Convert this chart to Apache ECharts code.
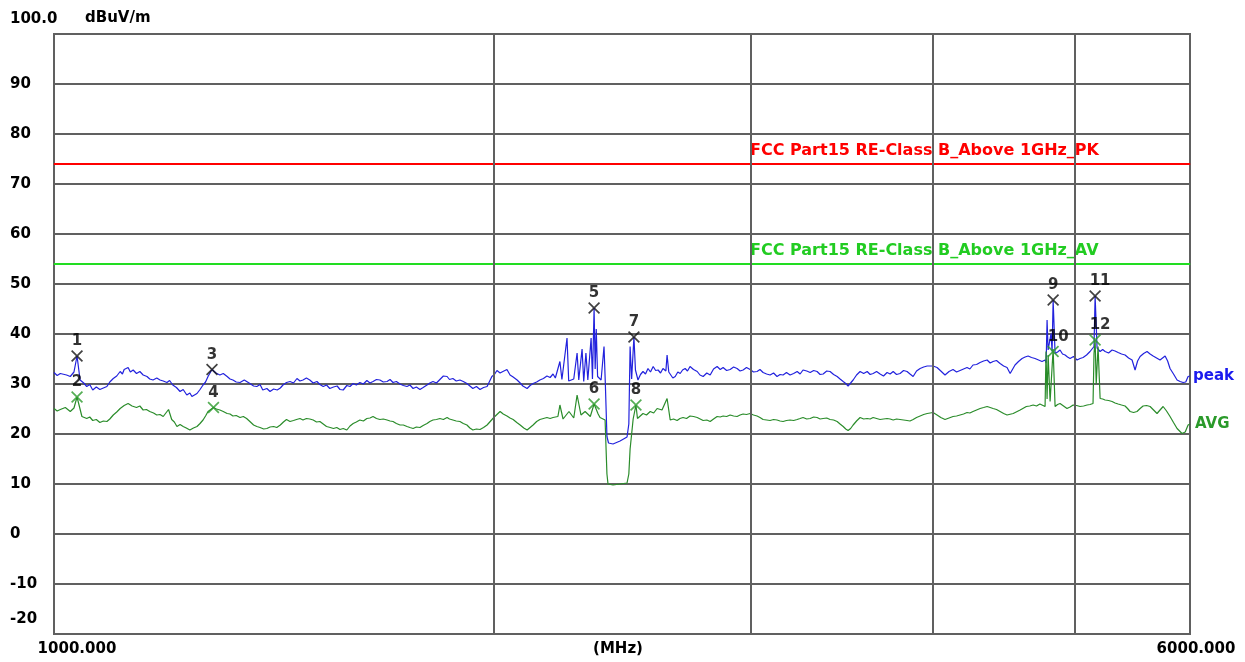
<!DOCTYPE html>
<html>
<head>
<meta charset="utf-8">
<script src="https://cdn.jsdelivr.net/npm/echarts@6.0.0/dist/echarts.min.js"></script>
<style>
html, body { margin: 0; padding: 0; background: #fff; }
#chart { width: 1245px; height: 662px; }
</style>
</head>
<body>
<div id="chart"></div>
<script>
// frequency (MHz) / level (dBuV/m)
var peakTrace = [
    [1000,32.3],[1005,31.7],[1010,32.1],[1020,31.8],[1026,31.5],[1032,32.4],[1037,35.6],[1042,30.8],[1048,30.2],[1053,29.5],[1058,29.9],[1063,28.8],
    [1069,29.4],[1075,28.9],[1081,29.2],[1087,29.5],[1092,30.4],[1098,31.1],[1104,31.6],[1110,32.5],[1114,32.0],[1117,32.9],[1124,33.3],[1128,32.4],[1133,32.8],[1139,32.1],[1145,32.5],[1151,31.8],[1158,31.5],[1163,31.0],[1169,30.8],
    [1176,31.2],[1182,30.8],[1188,30.6],[1195,30.3],[1200,30.7],[1206,29.8],[1213,29.3],[1220,28.5],[1226,28.9],[1233,27.8],[1239,28.2],[1243,27.5],[1253,28.1],[1259,28.9],[1265,29.8],[1270,30.4],[1275,31.5],[1283,32.9],
    [1291,32.2],[1299,31.8],[1306,32.1],[1314,31.5],[1320,31.0],[1326,30.8],[1333,30.4],[1341,30.3],[1350,30.8],[1362,30.1],[1370,29.6],[1377,29.5],[1384,29.9],[1390,28.8],[1399,29.1],[1406,28.5],[1414,29.0],[1422,28.8],
    [1429,29.2],[1435,29.8],[1443,30.3],[1451,30.5],[1459,30.2],[1467,31.1],[1474,30.6],[1481,30.8],[1489,31.2],[1497,30.8],[1505,30.2],[1514,30.5],[1521,29.9],[1529,29.5],[1537,29.8],[1545,29.1],[1554,29.4],[1563,29.6],[1570,28.9],[1578,28.8],
    [1587,29.7],[1595,29.5],[1603,30.1],[1611,29.8],[1620,30.3],[1629,30.0],[1638,30.7],[1646,30.2],[1654,30.5],[1663,30.9],[1672,30.8],[1681,30.4],[1691,30.5],[1699,30.9],[1707,30.3],[1716,30.5],[1726,30.0],[1735,29.7],[1745,29.5],
    [1753,29.8],[1762,29.1],[1771,29.4],[1781,28.9],[1790,29.3],[1801,29.8],[1809,30.2],[1818,30.5],[1828,30.2],[1838,30.9],[1848,31.6],[1859,31.5],[1866,30.9],[1876,31.1],[1886,30.6],[1897,30.8],[1907,30.5],[1918,30.1],[1927,29.6],[1936,29.1],
    [1947,29.5],[1958,28.9],[1969,29.3],[1980,29.5],[1995,31.5],[2003,31.9],[2011,32.7],[2021,32.2],[2030,32.5],[2043,32.9],[2053,31.8],[2063,31.4],[2076,30.8],[2086,30.2],[2095,29.6],[2109,29.1],[2119,29.7],[2129,30.1],
    [2141,30.4],[2152,30.8],[2164,31.1],[2176,31.6],[2187,31.3],[2197,32.0],[2205,31.2],[2221,34.5],[2228,30.9],[2246,39.2],[2252,30.6],[2270,31.0],[2282,36.2],
    [2288,30.8],[2300,37.0],[2306,30.5],[2314,36.2],[2321,30.8],[2333,39.2],[2338,31.0],[2344,45.2],[2348,33.0],[2352,41.0],
    [2357,31.5],[2370,30.8],[2381,37.5],[2386,30.0],[2392,19.5],[2398,18.2],[2415,18.0],[2442,18.6],[2469,19.4],[2476,22.0],
    [2481,37.5],[2487,31.0],[2496,39.4],[2502,32.8],[2512,30.8],[2522,31.9],[2532,32.5],[2542,32.0],[2552,33.1],[2562,32.4],[2573,33.5],[2583,32.7],[2593,32.8],[2603,32.2],[2613,33.1],
    [2625,32.6],[2630,35.8],[2637,32.4],[2643,32.1],[2654,31.2],[2664,31.5],[2675,32.4],[2685,32.1],[2695,32.8],[2706,33.1],[2716,32.6],[2727,33.5],[2742,32.9],[2758,32.5],[2770,31.8],[2784,31.5],[2800,32.2],[2815,31.8],
    [2830,33.0],[2846,33.5],[2860,32.9],[2873,33.3],[2889,32.7],[2905,32.9],[2921,33.4],[2937,33.1],[2951,32.6],[2965,32.8],[2981,33.3],[2998,32.9],[3014,32.4],[3031,32.5],[3045,32.9],[3060,32.3],[3077,32.0],[3094,31.8],[3111,32.2],[3128,31.5],
    [3143,31.9],[3158,31.8],[3175,32.3],[3193,31.8],[3211,32.1],[3229,32.5],[3244,32.0],[3259,32.8],[3278,32.6],[3296,32.3],[3314,32.7],[3332,32.5],[3348,31.9],[3364,32.0],[3383,32.6],[3401,32.5],[3420,31.9],[3439,31.5],[3455,31.0],[3472,30.5],
    [3486,30.1],[3499,29.6],[3513,30.2],[3527,30.8],[3546,31.8],[3566,32.5],[3586,32.1],[3606,32.5],[3623,31.9],[3640,32.1],[3660,32.5],[3680,32.0],[3700,31.6],[3721,32.3],[3739,32.0],[3757,32.5],[3777,31.9],[3798,32.1],[3819,32.7],[3840,32.5],
    [3858,32.0],[3877,31.5],[3898,32.6],[3920,33.1],[3942,33.4],[3964,33.6],[4001,33.6],[4026,33.3],[4050,32.6],[4077,31.8],[4103,32.5],[4129,32.9],[4152,32.4],[4175,32.7],[4198,33.0],[4221,33.3],[4240,33.0],[4261,33.8],
    [4285,33.9],[4309,34.3],[4333,34.6],[4357,34.8],[4378,34.2],[4398,34.5],[4422,34.7],[4447,34.1],[4472,33.6],[4496,33.3],[4518,32.1],[4553,33.8],[4578,34.5],[4604,35.1],[4626,35.4],[4648,35.6],[4673,35.3],[4699,35.1],
    [4725,34.8],[4751,34.5],[4774,34.8],[4782,34.2],[4789,42.8],[4797,36.8],[4804,36.5],[4819,40.1],[4827,36.5],[4835,46.8],[4850,36.1],
    [4869,36.4],[4888,36.8],[4907,36.0],[4927,35.8],[4946,35.4],[4966,35.1],[4993,35.5],[5021,34.8],[5045,35.1],[5069,35.3],[5097,35.8],[5125,36.5],[5141,36.9],[5157,37.5],[5166,47.6],[5182,37.2],[5207,36.5],
    [5228,36.9],[5248,36.5],[5277,36.2],[5306,36.8],[5331,36.6],[5357,36.3],[5386,36.0],[5416,35.8],[5446,35.2],[5476,34.8],[5502,32.8],[5524,34.6],[5546,35.5],[5577,36.1],[5607,36.5],[5634,36.0],[5661,35.6],[5692,35.2],[5723,34.8],
    [5746,35.2],[5769,35.6],[5792,34.6],[5814,33.1],[5846,32.0],[5879,30.8],[5907,30.5],[5935,30.3],[5960,30.4],[5982,31.5],[6000,31.6]
];

var avgTrace = [
    [1000,25.1],[1005,24.6],[1010,24.9],[1018,25.3],[1026,24.5],[1032,25.2],[1037,27.4],[1045,23.5],[1053,23.1],[1058,23.4],[1063,22.7],[1069,22.9],[1075,22.3],
    [1081,22.6],[1087,22.5],[1092,23.0],[1098,23.8],[1104,24.4],[1110,25.1],[1117,25.7],[1124,26.1],[1131,25.6],[1139,25.3],[1145,25.6],[1151,24.8],[1157,24.9],[1163,24.5],[1170,24.2],[1176,23.8],[1182,23.9],[1188,23.5],[1198,24.9],
    [1204,22.9],[1209,22.4],[1214,21.5],[1220,21.9],[1226,21.5],[1232,21.2],[1239,20.8],[1246,21.2],[1253,21.5],[1259,22.1],[1265,22.8],[1270,23.6],[1275,24.5],[1286,25.3],[1292,25.0],[1299,24.8],[1306,24.5],[1314,24.1],
    [1320,24.0],[1326,23.6],[1333,23.7],[1341,23.3],[1348,23.5],[1355,23.1],[1362,22.5],[1370,21.8],[1377,21.5],[1384,21.3],[1392,21.0],[1399,21.1],[1406,21.4],[1414,21.5],[1421,21.3],[1429,21.8],[1436,22.4],[1443,22.9],[1451,22.5],[1459,22.7],
    [1466,22.9],[1474,23.1],[1481,22.8],[1489,23.1],[1497,23.0],[1505,22.8],[1513,22.4],[1521,22.5],[1529,22.0],[1537,21.5],[1546,21.3],[1554,21.1],[1562,21.3],[1570,20.9],[1578,21.1],[1587,20.8],[1595,21.6],[1603,22.1],[1611,22.4],[1620,22.8],
    [1629,22.6],[1638,23.1],[1646,23.2],[1654,23.5],[1663,23.1],[1672,22.9],[1681,23.0],[1691,22.8],[1699,22.6],[1707,22.5],[1716,22.1],[1726,21.8],[1735,21.8],[1745,21.5],[1753,21.3],[1762,21.1],[1771,21.4],[1781,21.3],[1790,21.7],[1801,22.1],
    [1809,22.5],[1818,22.8],[1828,22.9],[1838,23.1],[1848,22.9],[1859,23.3],[1866,23.0],[1876,22.8],[1886,22.6],[1897,22.5],[1907,22.1],[1918,21.8],[1927,21.2],[1936,20.8],[1947,21.0],[1958,20.9],[1969,21.3],[1980,21.8],[2001,23.3],
    [2011,23.9],[2021,24.5],[2031,24.0],[2043,23.6],[2053,23.2],[2063,22.9],[2075,22.3],[2086,21.8],[2098,21.2],[2109,20.8],[2119,21.3],[2129,21.8],[2141,22.5],[2152,22.9],[2164,23.1],[2176,23.3],[2187,23.1],[2197,23.3],[2214,23.5],
    [2221,25.8],[2232,23.0],[2253,24.5],[2270,23.2],[2282,27.8],[2296,23.8],[2311,24.5],[2330,23.5],[2344,26.0],[2359,24.0],
    [2366,23.3],[2385,22.8],[2392,12.0],[2396,10.0],[2415,9.8],[2442,10.0],[2469,10.2],[2476,12.0],[2481,17.0],[2493,23.0],
    [2504,25.8],[2510,23.1],[2521,23.6],[2532,24.1],[2546,23.8],[2561,24.5],[2575,24.2],[2589,25.1],[2609,24.8],[2630,27.1],[2643,22.8],[2657,23.0],[2672,22.7],[2684,23.1],[2697,23.3],
    [2712,23.1],[2727,23.6],[2742,23.5],[2758,23.3],[2771,23.0],[2784,22.7],[2800,22.8],[2815,22.5],[2830,23.0],[2846,23.5],[2860,23.4],[2873,23.6],[2889,23.5],[2905,23.8],[2921,23.6],[2937,23.5],[2951,23.8],[2965,24.0],[2981,23.9],[2998,24.1],
    [3014,23.8],[3031,23.6],[3045,23.3],[3060,22.9],[3077,22.8],[3094,22.7],[3111,22.9],[3128,22.8],[3143,22.6],[3158,22.5],[3175,22.7],[3193,22.8],[3211,22.7],[3229,22.9],[3244,23.1],[3259,23.3],[3278,23.0],[3296,23.1],[3314,23.4],[3332,23.3],
    [3348,23.0],[3364,23.1],[3383,23.2],[3401,22.9],[3420,22.8],[3439,22.5],[3455,22.0],[3472,21.5],[3486,21.0],[3499,20.7],[3513,21.1],[3527,21.8],[3546,22.6],[3566,23.3],[3586,23.0],[3606,23.1],[3623,23.0],[3640,23.3],[3660,23.1],[3680,22.9],
    [3700,23.0],[3721,23.1],[3739,23.0],[3757,22.8],[3777,23.0],[3798,22.9],[3819,22.8],[3840,22.7],[3858,22.6],[3877,22.9],[3898,23.3],[3920,23.6],[3942,23.9],[3964,24.1],[4001,24.3],[4026,23.8],[4050,23.3],[4077,22.9],
    [4103,23.2],[4129,23.5],[4152,23.6],[4175,23.8],[4198,24.0],[4221,24.3],[4240,24.2],[4261,24.5],[4285,24.8],[4309,25.1],[4333,25.3],[4357,25.5],[4378,25.3],[4398,25.1],[4422,24.9],[4447,24.5],[4472,24.1],[4496,23.8],[4540,24.1],
    [4590,24.8],[4635,25.5],[4660,25.6],[4685,25.8],[4710,25.6],[4735,26.0],[4774,25.5],[4781,36.5],[4789,27.0],[4797,35.8],[4812,26.5],[4835,37.0],
    [4850,25.5],[4869,25.9],[4888,26.1],[4915,25.6],[4942,25.1],[4966,25.4],[4990,25.8],[5017,25.7],[5045,25.5],[5073,25.6],[5101,25.8],[5125,25.9],[5149,26.1],[5157,36.1],[5166,38.8],[5175,30.0],
    [5190,37.5],[5207,27.1],[5228,27.0],[5248,26.8],[5277,26.7],[5306,26.5],[5331,26.2],[5357,26.0],[5386,25.8],[5416,25.6],[5437,25.1],[5459,24.5],[5489,24.3],[5519,24.5],[5546,25.1],[5572,25.6],[5603,25.7],[5634,25.5],
    [5665,24.8],[5696,24.1],[5723,24.8],[5751,25.5],[5782,24.6],[5814,23.5],[5846,22.3],[5879,21.1],[5902,20.6],[5925,20.1],[5955,20.4],[5982,21.8],[6000,22.0]
];

// numbered markers
var peakMarkNo = ['1', '3', '5', '7', '9', '11'];
var peakMarkFreq = [1037, 1283, 2344, 2496, 4835, 5166];
var peakMarkLevel = [35.6, 32.9, 45.2, 39.4, 46.8, 47.6];
var avgMarkNo = ['2', '4', '6', '8', '10', '12'];
var avgMarkFreq = [1037, 1286, 2344, 2504, 4835, 5166];
var avgMarkLevel = [27.4, 25.3, 26.0, 25.8, 36.5, 38.8];

// limits
var limitPK = 74;
var limitAV = 54;
var limitPKName = 'FCC Part15 RE-Class B_Above 1GHz_PK';
var limitAVName = 'FCC Part15 RE-Class B_Above 1GHz_AV';
var limitLabelFreq = 3000;

// axes
var xGridFreq = [2000, 3000, 4000, 5000];
var xTickLabels = ['1000.000', '(MHz)', '6000.000'];
var yTickLabels = ['-20', '-10', '0', '10', '20', '30', '40', '50', '60', '70', '80', '90', '100.0'];

var FONT = 'DejaVu Sans';
var GRID_COLOR = '#606060';

function limitData(level, name, color) {
    return [
        [1000, level],
        {
            value: [limitLabelFreq, level],
            label: {
                show: true, position: 'right', distance: 0, offset: [-1, -13],
                formatter: name, color: color,
                fontFamily: FONT, fontWeight: 'bold', fontSize: 16
            }
        },
        [6000, level]
    ];
}

function markData(no, freq, level) {
    var res = [];
    for (var i = 0; i < no.length; i++) {
        res.push({
            name: no[i], value: [freq[i], level[i]],
            label: { offset: [no[i].length > 1 ? 5 : 0, 0] }
        });
    }
    return res;
}

var xMark = 'path://M0,1L1,0L5,4L9,0L10,1L6,5L10,9L9,10L5,6L1,10L0,9L4,5Z';

var chart = echarts.init(document.getElementById('chart'));
var option = {
    animation: false,
    backgroundColor: '#fff',
    grid: {
        left: 54, right: 55, top: 34, bottom: 28,
        show: true, borderColor: GRID_COLOR, borderWidth: 2
    },
    xAxis: [
        {
            type: 'log', logBase: 10, min: 1000, max: 6000,
            axisLine: { show: true, onZero: false, lineStyle: { color: GRID_COLOR, width: 2 } },
            axisTick: { show: false },
            axisLabel: { show: false },
            splitLine: { show: false }
        },
        {
            type: 'value', min: 0, max: 100, interval: 50, position: 'bottom',
            axisLine: { show: false, onZero: false },
            axisTick: { show: false },
            splitLine: { show: false },
            axisLabel: {
                margin: 8,
                formatter: function (v) {
                    var i = Math.round(v / 50);
                    return '{t' + i + '|' + xTickLabels[i] + '}';
                },
                rich: {
                    t0: { padding: [0, 0, 0, 46], fontFamily: FONT, fontWeight: 'bold', fontSize: 15, color: '#000' },
                    t1: { padding: [0, 8, 0, 0], fontFamily: FONT, fontWeight: 'bold', fontSize: 15, color: '#000' },
                    t2: { padding: [0, 0, 0, 12], fontFamily: FONT, fontWeight: 'bold', fontSize: 15, color: '#000' }
                }
            }
        }
    ],
    yAxis: {
        type: 'value', min: -20, max: 100, interval: 10,
        name: 'dBuV/m', nameLocation: 'end', nameGap: 16,
        nameTextStyle: {
            align: 'left', verticalAlign: 'middle', padding: [0, 0, 0, 31],
            fontFamily: FONT, fontWeight: 'bold', fontSize: 15, color: '#000'
        },
        axisLine: { show: true, onZero: false, lineStyle: { color: GRID_COLOR, width: 2 } },
        axisTick: { show: false },
        splitLine: { show: true, lineStyle: { color: GRID_COLOR, width: 2 } },
        axisLabel: {
            align: 'left', margin: 44,
            fontFamily: FONT, fontWeight: 'bold', fontSize: 15, color: '#000',
            formatter: function (v) {
                var i = Math.round((v + 20) / 10);
                if (v === 100 || v === -20) return '{edge|' + yTickLabels[i] + '}';
                return yTickLabels[i];
            },
            rich: {
                edge: { padding: [0, 0, 29, 0], fontFamily: FONT, fontWeight: 'bold', fontSize: 15, color: '#000' }
            }
        }
    },
    series: [
        {
            name: 'PK limit', type: 'line', z: 1,
            symbol: 'circle', symbolSize: 1, showSymbol: true,
            itemStyle: { color: '#ff0000' },
            lineStyle: { color: '#ff0000', width: 2 },
            data: limitData(limitPK, limitPKName, '#ff0000'),
            markLine: {
                silent: true, symbol: ['none', 'none'],
                label: { show: false },
                lineStyle: { color: GRID_COLOR, width: 2, type: 'solid' },
                data: xGridFreq.map(function (f) { return { xAxis: f }; })
            }
        },
        {
            name: 'AV limit', type: 'line', z: 1,
            symbol: 'circle', symbolSize: 1, showSymbol: true,
            itemStyle: { color: '#22dd22' },
            lineStyle: { color: '#22dd22', width: 2 },
            data: limitData(limitAV, limitAVName, '#22cc22')
        },
        {
            name: 'peak', type: 'line', symbol: 'none',
            lineStyle: { color: '#2222dd', width: 1.2 },
            data: peakTrace,
            endLabel: {
                show: true, formatter: 'peak', distance: 3,
                color: '#1a1aee', fontFamily: FONT, fontWeight: 'bold', fontSize: 15
            }
        },
        {
            name: 'AVG', type: 'line', symbol: 'none',
            lineStyle: { color: '#2a8c2a', width: 1.2 },
            data: avgTrace,
            endLabel: {
                show: true, formatter: 'AVG', distance: 5,
                color: '#2a9a2a', fontFamily: FONT, fontWeight: 'bold', fontSize: 15
            }
        },
        {
            name: 'peak marks', type: 'scatter', z: 5,
            symbol: xMark, symbolSize: 12,
            itemStyle: { color: '#111' },
            label: {
                show: true, position: 'top', distance: 1, formatter: '{b}',
                color: '#000', fontFamily: FONT, fontWeight: 'bold', fontSize: 15
            },
            data: markData(peakMarkNo, peakMarkFreq, peakMarkLevel)
        },
        {
            name: 'avg marks', type: 'scatter', z: 5,
            symbol: xMark, symbolSize: 12,
            itemStyle: { color: '#2a9a2a' },
            label: {
                show: true, position: 'top', distance: 1, formatter: '{b}',
                color: '#000', fontFamily: FONT, fontWeight: 'bold', fontSize: 15
            },
            data: markData(avgMarkNo, avgMarkFreq, avgMarkLevel)
        }
    ]
};
chart.setOption(option);
</script>
</body>
</html>
